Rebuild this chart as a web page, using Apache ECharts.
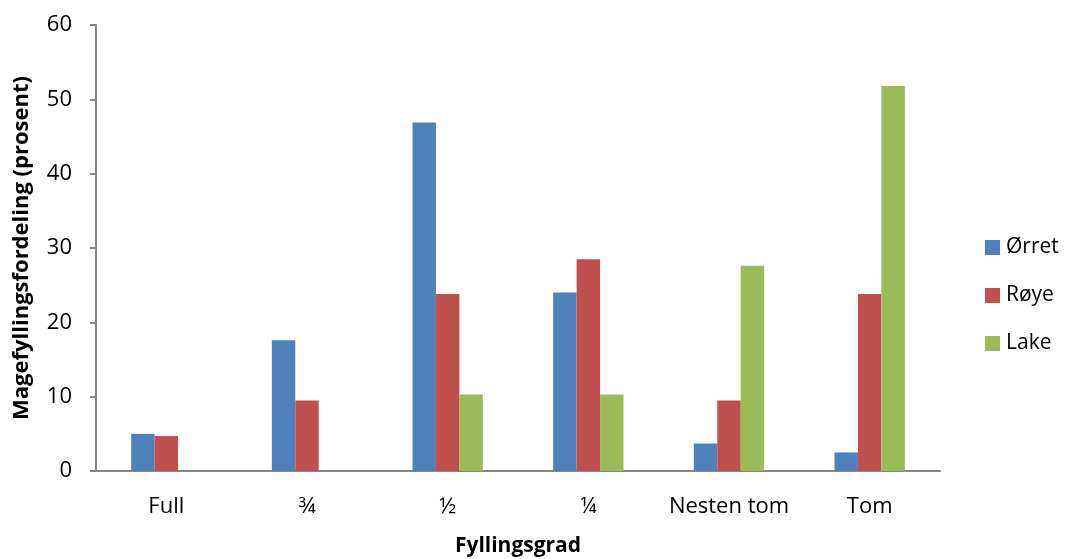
<!DOCTYPE html>
<html>
<head>
<meta charset="utf-8">
<script src="https://cdn.jsdelivr.net/npm/echarts@6/dist/echarts.min.js"></script>
<style>
  html, body { margin: 0; padding: 0; background: #fff; }
  #chart { width: 1068px; height: 559px; }
</style>
</head>
<body>
<div id="chart"></div>
<script>
// Stomach fill grade categories
const categories = ['Full', '¾', '½', '¼', 'Nesten tom', 'Tom'];

// Share of fish per fill grade (percent)
const orret = [5.0, 17.6, 46.9, 24.0, 3.7, 2.5];
const roye  = [4.7, 9.5, 23.8, 28.5, 9.5, 23.8];
const lake  = [0, 0, 10.3, 10.3, 27.6, 51.8];

const seriesNames = ['Ørret', 'Røye', 'Lake'];
const seriesColors = ['#4F81BD', '#C0504D', '#9BBB59'];

const font = '"Open Sans", Lato, sans-serif';
const axisGray = '#868686';

const chart = echarts.init(document.getElementById('chart'), null, { renderer: 'canvas' });

chart.setOption({
  animation: false,
  textStyle: { fontFamily: font },
  grid: { left: 96, right: 128, top: 25, bottom: 88, containLabel: false, outerBoundsMode: 'none' },
  legend: {
    orient: 'vertical',
    left: 980,
    top: 232,
    itemWidth: 15,
    itemHeight: 15,
    itemGap: 27,
    icon: 'rect',
    textStyle: { fontFamily: font, fontSize: 21, color: '#000', padding: [0, 0, 0, 1] },
    data: seriesNames
  },
  xAxis: {
    type: 'category',
    data: categories,
    name: 'Fyllingsgrad',
    nameLocation: 'middle',
    nameGap: 65,
    nameTextStyle: { fontFamily: font, fontSize: 21, fontWeight: 'bold', color: '#000' },
    axisLine: { lineStyle: { color: axisGray, width: 2 } },
    axisTick: { show: false },
    axisLabel: { interval: 0, fontFamily: font, fontSize: 22, color: '#000', margin: 25 },
    splitLine: { show: false }
  },
  yAxis: {
    type: 'value',
    min: 0,
    max: 60,
    interval: 10,
    name: 'Magefyllingsfordeling (prosent)',
    nameLocation: 'middle',
    nameGap: 63,
    nameTextStyle: { fontFamily: font, fontSize: 22, fontWeight: 'bold', color: '#000' },
    axisLine: { show: true, lineStyle: { color: axisGray, width: 2 } },
    axisTick: { show: true, inside: false, length: 6, lineStyle: { color: axisGray, width: 2 } },
    axisLabel: { fontFamily: font, fontSize: 22, color: '#000', margin: 24 },
    splitLine: { show: false }
  },
  series: [orret, roye, lake].map((values, i) => ({
    name: seriesNames[i],
    type: 'bar',
    data: values,
    barGap: '0%',
    barCategoryGap: '50%',
    itemStyle: { color: seriesColors[i] }
  }))
});
</script>
</body>
</html>
